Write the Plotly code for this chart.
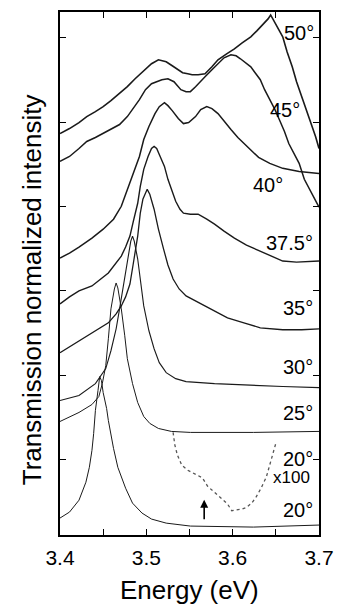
import plotly.graph_objects as go

# ---- data (energy in eV, normalized intensity with vertical offsets) ----
e50 = [3.400,3.411,3.422,3.431,3.441,3.450,3.459,3.469,3.478,3.487,3.496,3.506,3.514,3.523,3.530,3.537,3.542,3.548,3.553,3.560,3.568,3.576,3.583,3.593,3.602,3.611,3.621,3.628,3.635,3.641,3.644,3.650,3.658,3.663,3.669,3.674,3.680,3.686,3.691,3.696,3.700]
i50 = [4.865,4.924,4.995,5.066,5.125,5.184,5.255,5.338,5.421,5.515,5.598,5.693,5.740,5.716,5.669,5.622,5.586,5.574,5.563,5.563,5.574,5.657,5.740,5.811,5.870,5.941,6.012,6.083,6.154,6.225,6.272,6.165,6.012,5.835,5.657,5.480,5.303,5.149,4.983,4.830,4.688]

e45 = [3.400,3.411,3.422,3.431,3.441,3.450,3.459,3.469,3.478,3.484,3.492,3.499,3.506,3.518,3.525,3.532,3.540,3.546,3.551,3.557,3.562,3.568,3.576,3.583,3.590,3.598,3.604,3.609,3.615,3.621,3.626,3.632,3.637,3.643,3.649,3.654,3.660,3.665,3.671,3.677,3.683,3.689,3.695,3.700]
i45 = [4.534,4.593,4.688,4.771,4.818,4.865,4.913,4.972,5.066,5.149,5.267,5.385,5.456,5.504,5.515,5.480,5.385,5.362,5.362,5.421,5.480,5.539,5.622,5.693,5.764,5.799,5.787,5.752,5.704,5.657,5.586,5.504,5.385,5.267,5.149,5.031,4.889,4.747,4.629,4.511,4.322,4.203,4.097,3.991]

e40 = [3.400,3.411,3.422,3.437,3.450,3.462,3.471,3.478,3.484,3.492,3.497,3.503,3.510,3.515,3.521,3.525,3.530,3.537,3.543,3.549,3.557,3.563,3.570,3.576,3.583,3.590,3.598,3.606,3.613,3.621,3.630,3.643,3.658,3.677,3.689,3.700]
i40 = [3.388,3.447,3.518,3.624,3.730,3.849,4.002,4.203,4.357,4.593,4.794,4.948,5.102,5.184,5.232,5.196,5.137,5.043,4.983,4.995,5.066,5.149,5.184,5.161,5.102,5.007,4.913,4.818,4.747,4.676,4.582,4.511,4.452,4.416,4.404,4.392]

e375 = [3.400,3.411,3.422,3.437,3.456,3.465,3.471,3.476,3.481,3.485,3.490,3.493,3.497,3.502,3.506,3.509,3.512,3.516,3.521,3.525,3.530,3.534,3.539,3.543,3.551,3.560,3.570,3.579,3.590,3.602,3.616,3.632,3.646,3.658,3.674,3.689,3.700]
i375 = [2.844,2.927,2.998,3.057,3.210,3.329,3.411,3.518,3.648,3.825,4.038,4.239,4.440,4.593,4.688,4.712,4.688,4.593,4.475,4.322,4.180,4.061,3.967,3.920,3.908,3.908,3.849,3.790,3.707,3.624,3.541,3.470,3.400,3.352,3.340,3.352,3.352]

e35 = [3.400,3.417,3.437,3.456,3.465,3.471,3.476,3.481,3.485,3.490,3.493,3.496,3.501,3.504,3.509,3.514,3.520,3.525,3.531,3.538,3.546,3.557,3.571,3.594,3.613,3.632,3.658,3.680,3.700]
i35 = [2.265,2.371,2.501,2.619,2.726,2.820,2.927,3.080,3.329,3.648,3.920,4.085,4.203,4.144,3.967,3.731,3.494,3.305,3.139,3.021,2.939,2.879,2.797,2.678,2.619,2.560,2.537,2.537,2.548]

e30 = [3.400,3.422,3.441,3.453,3.459,3.465,3.469,3.475,3.480,3.482,3.484,3.486,3.490,3.494,3.497,3.503,3.509,3.515,3.523,3.534,3.546,3.579,3.621,3.658,3.700]
i30 = [1.697,1.757,1.898,2.076,2.288,2.548,2.785,3.151,3.470,3.589,3.648,3.589,3.376,3.057,2.820,2.525,2.312,2.147,2.028,1.957,1.922,1.898,1.875,1.863,1.851]

e25 = [3.400,3.422,3.437,3.445,3.449,3.453,3.456,3.459,3.463,3.465,3.467,3.471,3.475,3.478,3.484,3.490,3.497,3.504,3.514,3.529,3.551,3.624,3.700]
i25 = [1.449,1.556,1.650,1.745,1.898,2.111,2.430,2.785,3.021,3.092,3.033,2.785,2.466,2.194,1.898,1.674,1.508,1.426,1.366,1.331,1.319,1.319,1.331]

e20 = [3.400,3.411,3.422,3.430,3.434,3.437,3.439,3.441,3.444,3.446,3.448,3.450,3.454,3.456,3.462,3.467,3.476,3.484,3.495,3.506,3.523,3.551,3.624,3.700]
i20 = [0.303,0.374,0.515,0.728,0.905,1.106,1.307,1.579,1.816,1.981,1.934,1.792,1.603,1.461,1.130,0.905,0.657,0.480,0.362,0.291,0.243,0.208,0.196,0.220]

# x100 magnified 20 degree spectrum (dotted)
e20x = [3.531,3.533,3.536,3.541,3.548,3.557,3.565,3.571,3.579,3.587,3.594,3.599,3.605,3.611,3.616,3.622,3.627,3.633,3.639,3.644,3.650]
i20x = [1.32,1.17,1.05,0.93,0.87,0.82,0.78,0.68,0.61,0.54,0.47,0.39,0.40,0.41,0.43,0.48,0.55,0.66,0.79,0.96,1.19]

labels = ["50°", "45°", "40°", "37.5°", "35°", "30°", "25°", "20°", "x100", "20°"]
label_x = [3.696, 3.680, 3.661, 3.695, 3.695, 3.695, 3.695, 3.695, 3.692, 3.695]
label_y = [6.06, 5.15, 4.26, 3.565, 2.80, 2.10, 1.544, 1.0, 0.787, 0.397]

arrow_x = 3.567
arrow_tip = 0.52
arrow_tail = 0.27

x_ticks = [3.40, 3.45, 3.50, 3.55, 3.60, 3.65, 3.70]
x_ticktext = ["3.4", "", "3.5", "", "3.6", "", "3.7"]
y_ticks = [1, 2, 3, 4, 5, 6]

FONT = "Liberation Sans, Arial, Helvetica, sans-serif"

fig = go.Figure()
series = [(e50, i50, 1.6), (e45, i45, 1.5), (e40, i40, 1.5), (e375, i375, 1.4),
          (e35, i35, 1.3), (e30, i30, 1.1), (e25, i25, 1.0), (e20, i20, 1.0)]
for ex, iy, w in series:
    fig.add_trace(go.Scatter(x=ex, y=iy, mode="lines",
                             line=dict(color="#1a1a1a", width=w), showlegend=False))
fig.add_trace(go.Scatter(x=e20x, y=i20x, mode="lines",
                         line=dict(color="#555555", width=1.3, dash="dot"), showlegend=False))

for t, lx, ly in zip(labels, label_x, label_y):
    fig.add_annotation(x=lx, y=ly, text=t, showarrow=False, xanchor="right", yanchor="middle",
                       font=dict(family=FONT, size=17 if t == "x100" else 20, color="black"))

fig.add_annotation(x=arrow_x, y=arrow_tip, ax=arrow_x, ay=arrow_tail, axref="x", ayref="y",
                   xref="x", yref="y", text="", showarrow=True, arrowhead=2, arrowsize=1,
                   arrowwidth=1.6, arrowcolor="black")

fig.add_annotation(xref="paper", yref="paper", x=0.5, y=-0.105, text="Energy (eV)",
                   showarrow=False, xanchor="center", yanchor="middle",
                   font=dict(family=FONT, size=26, color="black"))
fig.add_annotation(xref="paper", yref="paper", x=-0.11, y=0.469,
                   text="Transmission normalized intensity", textangle=-90,
                   showarrow=False, xanchor="center", yanchor="middle",
                   font=dict(family=FONT, size=26, color="black"))

fig.update_layout(
    width=344, height=605,
    margin=dict(l=60, r=16, t=10, b=70),
    plot_bgcolor="white", paper_bgcolor="white",
    font=dict(family=FONT, color="black"),
    xaxis=dict(range=[3.4, 3.7], tickvals=x_ticks, ticktext=x_ticktext,
               ticks="inside", ticklen=6, tickwidth=1.3, tickcolor="black",
               showline=True, linecolor="black", linewidth=1.5, mirror="ticks",
               showgrid=False, zeroline=False, tickfont=dict(size=21, family=FONT),
               ticklabelstandoff=3),
    yaxis=dict(range=[0.102, 6.307], tickvals=y_ticks, showticklabels=False,
               ticks="inside", ticklen=6, tickwidth=1.3, tickcolor="black",
               showline=True, linecolor="black", linewidth=1.5, mirror="ticks",
               showgrid=False, zeroline=False),
)

fig.write_html("out.html")
